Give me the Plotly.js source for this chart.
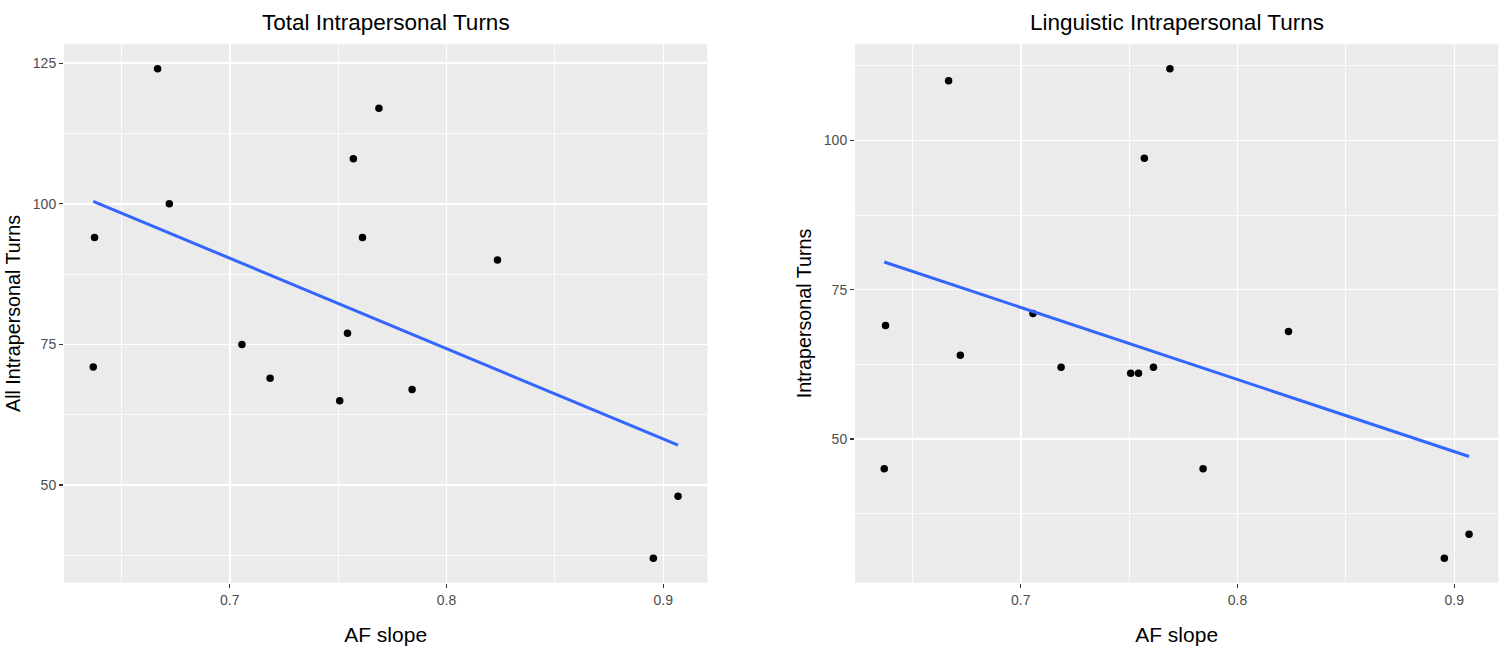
<!DOCTYPE html>
<html>
<head>
<meta charset="utf-8">
<script src="https://cdn.plot.ly/plotly-3.0.1.min.js"></script>
<style>
  html, body { margin: 0; padding: 0; background: #ffffff; }
  #chart { width: 1503px; height: 648px; }
</style>
</head>
<body>
<div id="chart"></div>
<script>
// ---- Data ----
const afSlope = [0.6376, 0.6370, 0.6667, 0.6721, 0.7056, 0.7186, 0.7507, 0.7543, 0.7570, 0.7612, 0.7688, 0.7841, 0.8235, 0.8954, 0.9068];
const totalTurns = [94, 71, 124, 100, 75, 69, 65, 77, 108, 94, 117, 67, 90, 37, 48];
const linguisticTurns = [69, 45, 110, 64, 71, 62, 61, 61, 97, 62, 112, 45, 68, 30, 34];

const panelTitles = ["Total Intrapersonal Turns", "Linguistic Intrapersonal Turns"];
const xTitle = "AF slope";
const yTitles = ["All Intrapersonal Turns", "Intrapersonal Turns"];

// ---- Helpers ----
function lmLine(x, y) {
  const n = x.length;
  const mx = x.reduce((a, b) => a + b, 0) / n;
  const my = y.reduce((a, b) => a + b, 0) / n;
  let sxy = 0, sxx = 0;
  for (let i = 0; i < n; i++) { sxy += (x[i] - mx) * (y[i] - my); sxx += (x[i] - mx) ** 2; }
  const b = sxy / sxx, a = my - b * mx;
  const x0 = Math.min(...x), x1 = Math.max(...x);
  return { x: [x0, x1], y: [a + b * x0, a + b * x1] };
}
function expand(v) {
  const lo = Math.min(...v), hi = Math.max(...v), d = (hi - lo) * 0.05;
  return [lo - d, hi + d];
}

const FONT = '"Liberation Sans", Arial, Helvetica, sans-serif';
const fitT = lmLine(afSlope, totalTurns);
const fitL = lmLine(afSlope, linguisticTurns);

const pointStyle = { color: '#000000', size: 7.5 };
const lineStyle = { color: '#3366FF', width: 3 };

const traces = [
  { x: afSlope, y: totalTurns, type: 'scatter', mode: 'markers', marker: pointStyle, xaxis: 'x', yaxis: 'y', hoverinfo: 'skip' },
  { x: fitT.x, y: fitT.y, type: 'scatter', mode: 'lines', line: lineStyle, xaxis: 'x', yaxis: 'y', hoverinfo: 'skip' },
  { x: afSlope, y: linguisticTurns, type: 'scatter', mode: 'markers', marker: pointStyle, xaxis: 'x2', yaxis: 'y2', hoverinfo: 'skip' },
  { x: fitL.x, y: fitL.y, type: 'scatter', mode: 'lines', line: lineStyle, xaxis: 'x2', yaxis: 'y2', hoverinfo: 'skip' }
];

const W = 1503, H = 648;
const yDom = [(H - 582.7) / H, (H - 44.3) / H];
const xDom1 = [64 / W, 707.3 / W];
const xDom2 = [855 / W, 1498.3 / W];

function xAxis(dom, anchor) {
  return {
    domain: dom, anchor: anchor, range: expand(afSlope),
    tick0: 0, dtick: 0.1, tickformat: '.1f',
    showgrid: true, gridcolor: '#FFFFFF', gridwidth: 1.6,
    minor: { tick0: 0, dtick: 0.05, showgrid: true, gridcolor: '#FFFFFF', gridwidth: 0.8, ticks: '' },
    zeroline: false, showline: false,
    ticks: 'outside', ticklen: 4, tickwidth: 1.3, tickcolor: '#333333',
    tickfont: { family: FONT, size: 14, color: '#4D4D4D' },
    title: { text: xTitle, font: { family: FONT, size: 21, color: '#000000' }, standoff: 20 },
    automargin: false, fixedrange: true
  };
}
function yAxis(dom, anchor, vals, title) {
  return {
    domain: dom, anchor: anchor, range: expand(vals),
    tick0: 0, dtick: 25,
    showgrid: true, gridcolor: '#FFFFFF', gridwidth: 1.6,
    minor: { tick0: 0, dtick: 12.5, showgrid: true, gridcolor: '#FFFFFF', gridwidth: 0.8, ticks: '' },
    zeroline: false, showline: false,
    ticks: 'outside', ticklen: 4, tickwidth: 1.3, tickcolor: '#333333',
    tickfont: { family: FONT, size: 14, color: '#4D4D4D' },
    title: { text: title, font: { family: FONT, size: 19.7, color: '#000000' }, standoff: 6 },
    automargin: false, fixedrange: true
  };
}

const layout = {
  width: W, height: H,
  margin: { l: 0, r: 0, t: 0, b: 0, pad: 0 },
  paper_bgcolor: '#FFFFFF',
  plot_bgcolor: '#EBEBEB',
  showlegend: false,
  font: { family: FONT },
  xaxis: xAxis(xDom1, 'y'),
  yaxis: yAxis(yDom, 'x', totalTurns, yTitles[0]),
  xaxis2: xAxis(xDom2, 'y2'),
  yaxis2: yAxis(yDom, 'x2', linguisticTurns, yTitles[1]),
  annotations: [
    { text: panelTitles[0], xref: 'paper', yref: 'paper', x: (xDom1[0] + xDom1[1]) / 2, y: (H - 22.5) / H,
      xanchor: 'center', yanchor: 'middle', showarrow: false, font: { family: FONT, size: 22.5, color: '#000000' } },
    { text: panelTitles[1], xref: 'paper', yref: 'paper', x: (xDom2[0] + xDom2[1]) / 2, y: (H - 22.5) / H,
      xanchor: 'center', yanchor: 'middle', showarrow: false, font: { family: FONT, size: 22.5, color: '#000000' } }
  ]
};

Plotly.newPlot('chart', traces, layout, { displayModeBar: false, staticPlot: true });
</script>
</body>
</html>
